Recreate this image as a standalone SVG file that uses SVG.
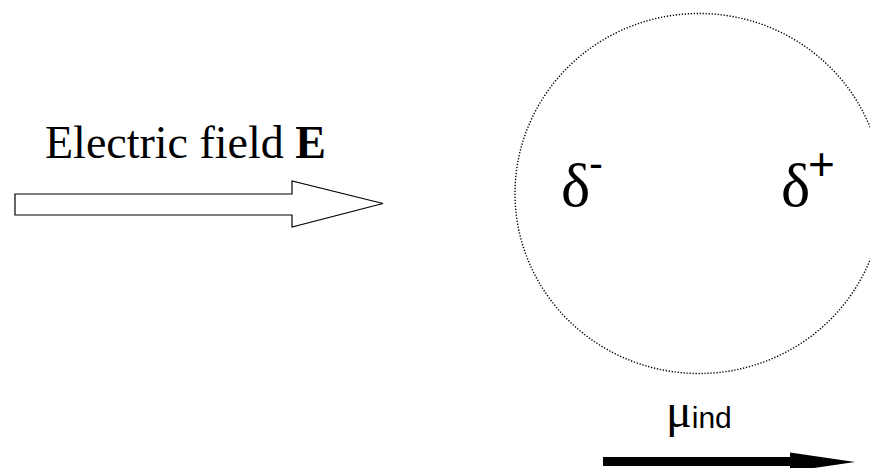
<svg xmlns="http://www.w3.org/2000/svg" width="870" height="468" viewBox="0 0 870 468">
<style>
.serif{font-family:"Liberation Serif","Times New Roman",serif;fill:#000}
.sans{font-family:"Liberation Sans",Arial,sans-serif;fill:#000}
</style>
<rect width="870" height="468" fill="#fff"/>
<g id="field-label">
<text class="serif" x="45" y="158" font-size="46">Electric field <tspan font-weight="bold">E</tspan></text>
</g>
<g id="field-arrow">
<polygon points="15,194 292,194 292,181 383,203.5 292,227 292,215 15,215" fill="#fff" stroke="#000" stroke-width="1.2"/>
</g>
<g id="sphere">
<ellipse cx="699" cy="193.5" rx="184" ry="180" fill="none" stroke="#000" stroke-width="1.4" stroke-dasharray="1.3 1.7"/>
</g>
<g id="delta-minus">
<text class="serif" x="561" y="206" font-size="62">δ</text>
<text class="sans" x="589" y="178" font-size="42">-</text>
</g>
<g id="delta-plus">
<text class="serif" x="781" y="206" font-size="62">δ</text>
<text class="sans" x="808" y="180" font-size="46">+</text>
</g>
<g id="mu-label">
<text class="serif" x="666" y="427" font-size="48">μ<tspan class="sans" font-size="30" dy="1">ind</tspan></text>
</g>
<g id="connectors">
<polygon points="603,457 790,457 790,452.5 855,462 790,471.5 790,466 603,466" fill="#000"/>
</g>
</svg>
